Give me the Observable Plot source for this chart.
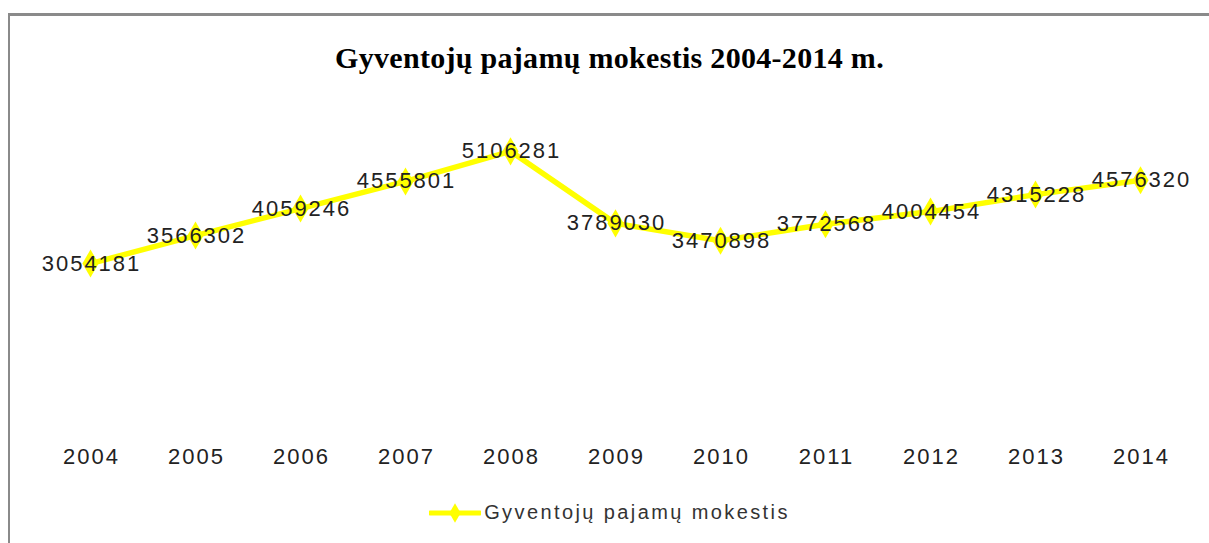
<!DOCTYPE html>
<html>
<head>
<meta charset="utf-8">
<script src="https://cdn.jsdelivr.net/npm/d3@7"></script>
<script src="https://cdn.jsdelivr.net/npm/@observablehq/plot@0.6"></script>
<style>
  html, body { margin: 0; padding: 0; background: #fff; }
  body { width: 1209px; height: 543px; overflow: hidden; position: relative; }
  #frame {
    position: absolute; left: 8px; top: 13px; width: 1199px; height: 540px;
    border-top: 3px solid #8a8a8a; border-left: 2px solid #8a8a8a;
  }
  #title {
    height: 80px; box-sizing: border-box; padding-top: 27px;
    text-align: center; font-family: "Liberation Serif", "Times New Roman", serif;
    font-weight: bold; font-size: 30px; line-height: 30px; color: #000;
    letter-spacing: 0.3px;
  }
  #chart svg { display: block; }
  #legend {
    display: flex; justify-content: center; align-items: center;
    font-family: "Liberation Sans", Arial, sans-serif; font-size: 20px; color: #333;
    letter-spacing: 2.4px;
    margin-top: 20px;
  }
  #legend svg { margin-right: 3px; }
</style>
</head>
<body>
<div id="frame">
  <div id="title"></div>
  <div id="chart"></div>
  <div id="legend"></div>
</div>
<script>
const years = [2004, 2005, 2006, 2007, 2008, 2009, 2010, 2011, 2012, 2013, 2014];
const values = [3054181, 3566302, 4059246, 4555801, 5106281, 3789030, 3470898, 3772568, 4004454, 4315228, 4576320];
const seriesName = "Gyventojų pajamų mokestis";
const titleText = "Gyventojų pajamų mokestis 2004-2014 m.";
const yDomain = [0, 6000000];

const data = years.map((y, i) => ({year: y, value: values[i]}));

document.getElementById("title").textContent = titleText;

const chart = Plot.plot({
  width: 1199,
  height: 385,
  marginTop: 6,
  marginBottom: 51,
  marginLeft: 80,
  marginRight: 69,
  style: {fontFamily: "Liberation Sans, Arial, sans-serif", background: "transparent", letterSpacing: "2px"},
  x: {type: "point", domain: years, padding: 0, label: null},
  y: {domain: yDomain, axis: null},
  marks: [
    Plot.axisX({tickSize: 0, tickPadding: 18, fontSize: 22, fill: "#222", tickFormat: d => String(d), label: null, dx: 1}),
    Plot.line(data, {x: "year", y: "value", stroke: "#ffff00", strokeWidth: 5.5, strokeLinejoin: "round"}),
    Plot.dot(data, {x: "year", y: "value", symbol: "diamond", r: 8.5, fill: "#ffff00", stroke: "none"}),
    Plot.text(data, {x: "year", y: "value", text: d => String(d.value), fontSize: 22, fill: "#222", dx: 1})
  ]
});
document.getElementById("chart").appendChild(chart);

const legend = document.getElementById("legend");
legend.innerHTML = `<svg width="52" height="20" viewBox="0 0 52 20">
  <line x1="1" y1="10" x2="51" y2="10" stroke="#ffff00" stroke-width="5" stroke-linecap="round"/>
  <path d="${d3.symbol(d3.symbolDiamond, 110)()}" transform="translate(26,10)" fill="#ffff00"/>
</svg><span></span>`;
legend.querySelector("span").textContent = seriesName;
</script>
</body>
</html>
